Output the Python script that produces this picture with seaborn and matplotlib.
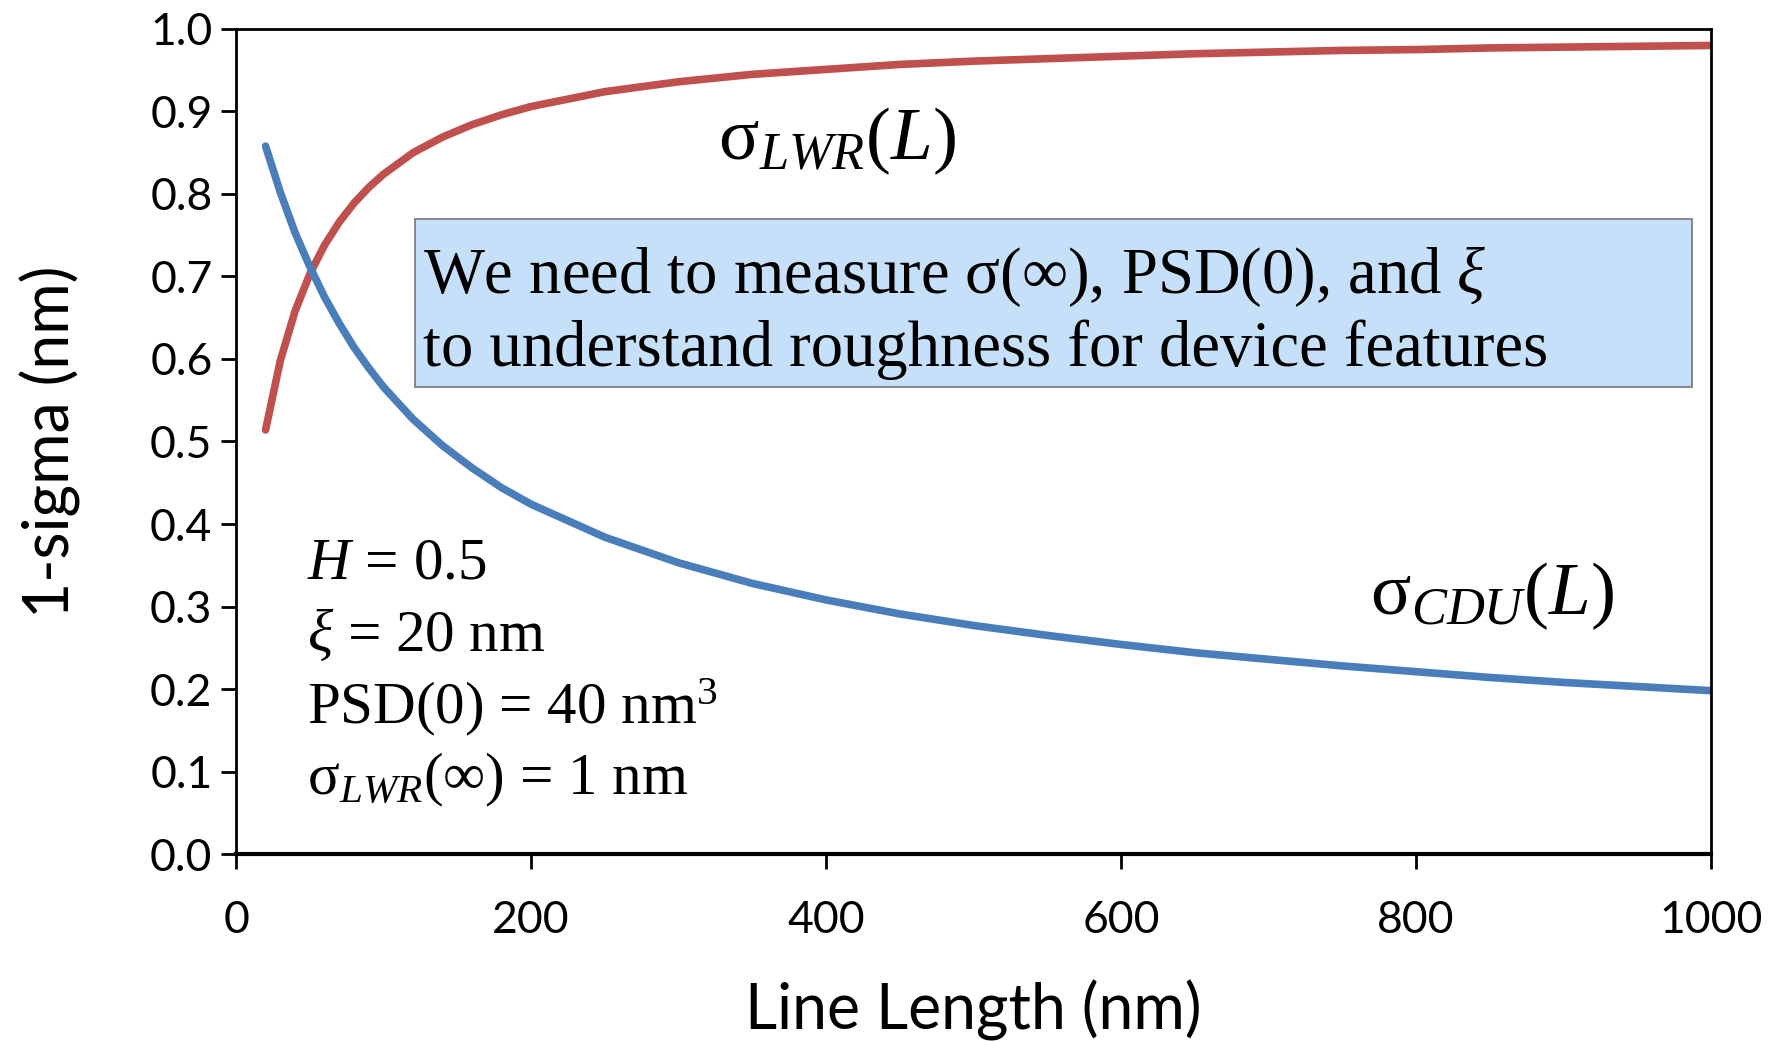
import matplotlib
matplotlib.use("Agg")
import matplotlib.pyplot as plt
from matplotlib.patches import Rectangle
import pandas as pd
import seaborn as sns

# Line length (nm) and the two 1-sigma roughness components (nm)
line_length = [20, 30, 40, 50, 60, 70, 80, 90, 100, 120, 140, 160, 180, 200,
               250, 300, 350, 400, 450, 500, 550, 600, 650, 700, 750, 800,
               850, 900, 950, 1000]
sigma_cdu = [0.858, 0.802, 0.753, 0.712, 0.675, 0.643, 0.614, 0.589, 0.566,
             0.527, 0.495, 0.468, 0.444, 0.424, 0.384, 0.353, 0.328, 0.308,
             0.291, 0.277, 0.265, 0.254, 0.244, 0.236, 0.228, 0.221, 0.214,
             0.208, 0.203, 0.198]
sigma_lwr = [0.514, 0.598, 0.658, 0.703, 0.738, 0.766, 0.789, 0.808, 0.824,
             0.850, 0.869, 0.884, 0.896, 0.906, 0.924, 0.936, 0.945, 0.951,
             0.957, 0.961, 0.964, 0.967, 0.970, 0.972, 0.974, 0.975, 0.977,
             0.978, 0.979, 0.980]

x_ticks = [0, 200, 400, 600, 800, 1000]
y_ticks = [0.0, 0.1, 0.2, 0.3, 0.4, 0.5, 0.6, 0.7, 0.8, 0.9, 1.0]

df = pd.DataFrame({
    "L": line_length * 2,
    "sigma": sigma_lwr + sigma_cdu,
    "series": ["LWR"] * len(line_length) + ["CDU"] * len(line_length),
})

sns.set_style("ticks")
plt.rcParams["font.family"] = ["Lato", "DejaVu Sans"]
plt.rcParams["text.color"] = "black"
plt.rcParams["axes.labelcolor"] = "black"
plt.rcParams["xtick.color"] = "black"
plt.rcParams["ytick.color"] = "black"
plt.rcParams["mathtext.fontset"] = "custom"
plt.rcParams["mathtext.rm"] = "Liberation Serif"
plt.rcParams["mathtext.it"] = "Liberation Serif:italic"

fig = plt.figure(figsize=(17.83, 10.42), dpi=100)
ax = fig.add_axes([0.1324, 0.1804, 0.8272, 0.7918])

sns.lineplot(data=df, x="L", y="sigma", hue="series",
             palette={"LWR": "#C0504D", "CDU": "#4A7EBB"},
             linewidth=5.5, legend=False, ax=ax)

ax.set_xlim(0, 1000)
ax.set_ylim(0, 1.0)
ax.set_xticks(x_ticks)
ax.set_xticklabels([str(v) for v in x_ticks])
ax.set_yticks(y_ticks)
ax.set_yticklabels([f"{v:.1f}" for v in y_ticks])
ax.tick_params(axis="both", labelsize=32, width=2, length=11, color="black",
               labelcolor="black")
ax.tick_params(axis="x", pad=22)
ax.tick_params(axis="y", pad=6)
for side in ["left", "right", "top"]:
    ax.spines[side].set_linewidth(2)
    ax.spines[side].set_color("black")
ax.spines["bottom"].set_linewidth(3)
ax.spines["bottom"].set_color("black")

ax.set_xlabel("Line Length (nm)", fontsize=45, labelpad=28)
ax.set_ylabel("1-sigma (nm)", fontsize=45, labelpad=50)

serif = "Liberation Serif"

# Curve labels
ax.text(0.327, 0.842, r"σ$_{\mathit{LWR}}$($\mathit{L}$)", transform=ax.transAxes,
        fontsize=54, family=serif, ha="left", va="baseline")
ax.text(0.769, 0.291, r"σ$_{\mathit{CDU}}$($\mathit{L}$)", transform=ax.transAxes,
        fontsize=54, family=serif, ha="left", va="baseline")

# Highlighted message box
ax.add_patch(Rectangle((0.1214, 0.566), 0.8656, 0.204, transform=ax.transAxes,
                       facecolor="#C6E0FA", edgecolor="#7F7F7F", linewidth=1.3,
                       zorder=1))
ax.text(0.127, 0.680, r"We need to measure σ(∞), PSD(0), and $\mathit{ξ}$",
        transform=ax.transAxes, fontsize=46.5, family=serif, ha="left",
        va="baseline", zorder=3)
ax.text(0.127, 0.5915, "to understand roughness for device features",
        transform=ax.transAxes, fontsize=46.5, family=serif, ha="left",
        va="baseline", zorder=3)

# Model parameters
params = [
    r"$\mathit{H}$ = 0.5",
    r"$\mathit{ξ}$ = 20 nm",
    r"PSD(0) = 40 nm$^{3}$",
    r"σ$_{\mathit{LWR}}$(∞) = 1 nm",
]
param_y = [0.3345, 0.2461, 0.1588, 0.0727]
for label, yy in zip(params, param_y):
    ax.text(0.048, yy, label, transform=ax.transAxes, fontsize=42.5, family=serif,
            ha="left", va="baseline")

fig.savefig("out.png", dpi=100)
